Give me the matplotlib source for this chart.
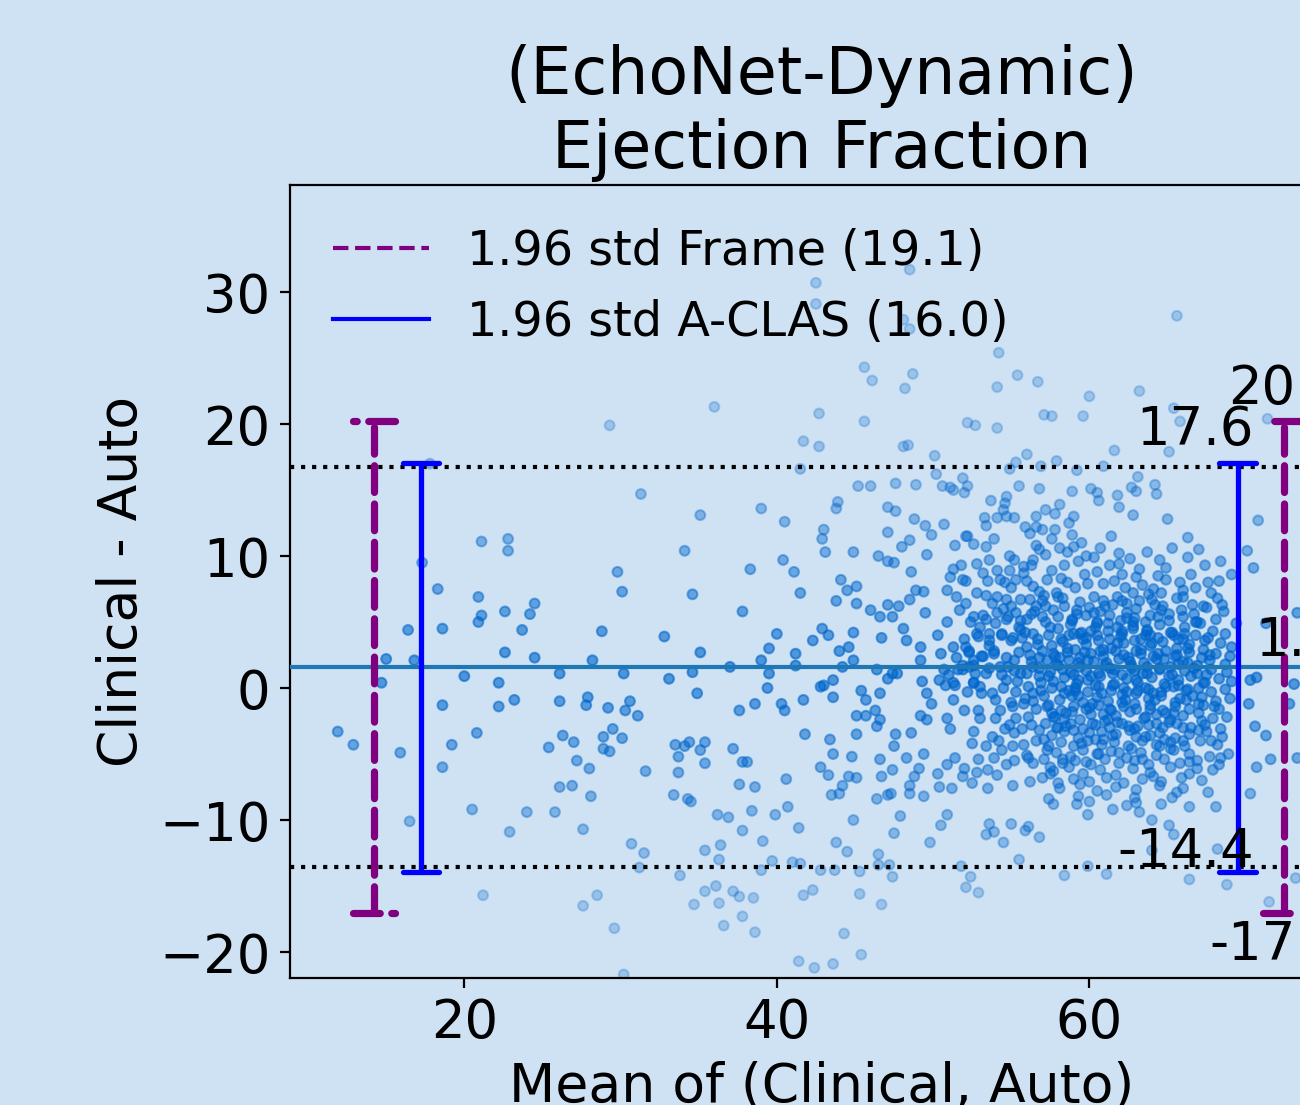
import numpy as np
import matplotlib
matplotlib.use("Agg")
import matplotlib.pyplot as plt
from matplotlib.lines import Line2D

# ---------------- data (mean of clinical/auto, clinical - auto) ----------------
left_pts = [(21.1, 11.1), (22.8, 11.3), (22.8, 10.4), (17.3, 9.5), (18.3, 7.5), (20.9, 6.9), (21.1, 5.5),
            (20.9, 5.0), (22.6, 5.8), (24.5, 6.4), (24.2, 5.6), (23.7, 4.4), (16.4, 4.4), (18.6, 4.5),
            (15.0, 2.2), (16.8, 2.1), (22.6, 2.7), (24.5, 2.3), (17.8, 17.0), (14.7, 0.4), (20.0, 0.9),
            (22.2, 0.4), (26.1, 1.1), (18.6, -1.3), (22.2, -1.4), (23.2, -0.9), (26.1, -1.0), (11.9, -3.3),
            (12.9, -4.3), (15.9, -4.9), (19.2, -4.3), (20.8, -3.4), (18.6, -6.0), (25.4, -4.5), (26.3, -3.6),
            (26.1, -7.5), (20.5, -9.2), (24.0, -9.4), (25.8, -9.4), (22.9, -10.9), (16.5, -10.1), (21.2, -15.7)]

middle_pts = [(29.3, 19.9), (36.0, 21.3), (42.7, 20.8), (41.7, 18.7), (42.7, 18.3), (41.5, 16.6), (31.3, 14.7),
              (35.1, 13.1), (39.0, 13.6), (40.5, 12.6), (34.1, 10.4), (29.8, 8.8), (30.1, 7.3), (34.6, 7.1),
              (38.3, 9.0), (40.4, 9.7), (41.1, 8.8), (41.5, 7.2), (37.8, 5.8), (28.8, 4.3), (32.8, 3.9),
              (40.0, 4.1), (42.3, 3.6), (35.1, 2.7), (39.5, 3.0), (41.2, 2.6), (28.2, 2.1), (39.0, 2.1),
              (30.2, 1.1), (33.1, 0.7), (34.6, 1.2), (37.0, 1.6), (39.5, 1.1), (41.2, 1.7), (42.8, 0.1),
              (27.9, -0.7), (27.8, -1.3), (29.2, -1.5), (30.6, -1.0), (30.3, -1.7), (31.1, -2.1), (34.9, -0.4),
              (37.6, -1.7), (38.6, -1.2), (39.4, 0.0), (40.3, -1.2), (40.5, -1.7), (41.7, -0.9),
              (27.0, -4.1), (28.9, -3.7), (29.5, -3.1), (30.1, -3.8), (28.9, -4.6), (29.3, -4.8), (27.2, -5.5),
              (28.0, -6.1), (31.6, -6.3), (33.5, -4.3), (34.4, -4.1), (34.1, -4.4), (35.4, -4.1), (35.1, -4.7),
              (33.7, -5.2), (35.4, -5.7), (33.7, -6.4), (37.2, -4.6), (37.8, -5.6), (38.1, -5.6), (41.8, -3.5),
              (42.8, -6.0), (26.9, -7.4), (28.1, -8.2), (33.4, -8.1), (34.3, -8.4), (34.5, -8.6), (37.6, -7.3),
              (38.6, -7.5), (40.6, -6.9), (40.7, -9.0), (39.9, -9.6), (38.4, -9.3), (36.2, -9.6), (36.9, -9.8),
              (37.8, -10.8), (39.1, -11.6), (41.4, -10.6), (27.6, -10.7), (30.7, -11.8), (31.5, -12.5),
              (31.2, -13.6), (33.8, -14.2), (35.4, -12.3), (36.4, -11.9), (36.3, -13.0), (39.0, -13.8),
              (39.7, -13.1), (41.0, -13.2), (41.5, -13.3), (42.8, -13.8), (27.6, -16.5), (28.5, -15.7),
              (29.6, -18.2), (34.7, -16.4), (35.4, -15.4), (36.1, -15.0), (36.3, -16.3), (37.2, -15.4),
              (37.6, -15.8), (38.5, -15.9), (37.8, -17.3), (36.6, -18.0), (38.6, -18.5), (41.7, -15.7),
              (42.3, -15.3), (41.4, -20.7), (42.4, -21.2), (30.2, -21.7)]

upper_pts = [(48.5, 31.7), (42.5, 30.7), (42.5, 29.1), (48.1, 27.9), (48.5, 27.2), (54.2, 25.4), (45.6, 24.3),
             (46.1, 23.3), (48.7, 23.8), (48.2, 22.7), (54.1, 22.8), (55.4, 23.7), (56.7, 23.2), (45.6, 20.2),
             (52.2, 20.1), (52.7, 19.9), (54.1, 19.7), (57.1, 20.7), (57.6, 20.6), (48.1, 18.3), (48.4, 18.4),
             (50.1, 17.6), (50.2, 16.2), (51.9, 15.9), (52.2, 15.3), (52.0, 14.8), (50.6, 15.3), (51.1, 15.2),
             (51.3, 15.0), (45.2, 15.3), (46.0, 15.3), (47.6, 15.5), (48.9, 15.4), (54.9, 16.6), (55.3, 17.1),
             (56.0, 17.7), (56.9, 16.8), (57.9, 17.2), (55.5, 15.3), (56.8, 15.1), (53.7, 14.2), (54.7, 14.5),
             (43.9, 14.1), (43.8, 13.6), (47.1, 13.7), (47.6, 13.4), (43.0, 12.0), (42.9, 11.3), (43.1, 10.3),
             (44.9, 10.3), (47.1, 11.8), (48.8, 12.8), (49.5, 12.3), (49.9, 11.6), (50.7, 12.4), (48.5, 11.2),
             (48.0, 10.7), (46.5, 10.0), (47.1, 9.6), (47.5, 9.5), (49.6, 10.1), (51.4, 10.8), (52.2, 11.5),
             (48.6, 8.8), (44.1, 8.2), (44.5, 7.4), (45.1, 7.7), (43.8, 6.6), (45.1, 6.4), (46.0, 5.9),
             (46.6, 5.4), (47.1, 6.3), (47.8, 6.2), (47.4, 5.4), (48.5, 6.7), (48.9, 7.4), (49.4, 7.3),
             (49.5, 5.7), (50.9, 7.4), (50.9, 5.0), (42.9, 4.5), (43.3, 4.0), (44.9, 4.2), (48.1, 4.5),
             (50.3, 4.0), (46.7, 3.8), (48.3, 3.6)]

lower_pts = [(43.0, 0.2), (43.6, -0.7), (43.6, 0.6), (44.2, 1.6), (44.0, 2.8), (44.6, 3.1), (44.9, 2.1),
             (45.4, -0.2), (45.7, -0.9), (46.6, -0.4), (46.4, 1.4), (47.4, 1.1), (47.1, 0.7), (47.7, 1.1),
             (45.1, -2.1), (45.7, -2.1), (46.3, -1.7), (46.6, -2.4), (46.4, -2.9), (45.1, -3.5), (43.4, -3.9),
             (43.6, -5.0), (44.8, -5.2), (43.3, -6.6), (44.6, -6.7), (45.1, -6.8), (44.2, -7.4), (43.5, -8.1),
             (44.0, -8.0), (46.4, -8.4), (47.1, -8.1), (47.3, -8.0), (46.6, -5.4), (46.7, -6.7), (47.4, -6.2),
             (47.6, -3.5), (47.5, -4.4), (48.6, -3.4), (48.3, -5.3), (49.4, -5.0), (49.1, -6.1), (48.8, -6.7),
             (48.5, -7.4), (48.5, -8.0), (49.4, -8.2), (50.3, -6.5), (50.4, -7.5), (50.9, -5.8), (51.4, -5.3),
             (52.0, -6.1), (51.2, -7.6), (51.9, -6.7), (52.5, -7.2), (52.8, -6.4), (52.9, -5.4), (53.5, -6.2),
             (53.5, -7.6), (54.1, -6.6), (55.1, -7.4), (57.4, -8.4), (44.9, -10.0), (47.9, -9.7), (47.5, -11.0),
             (43.8, -11.7), (44.5, -12.4), (46.5, -12.6), (46.5, -13.4), (47.2, -13.4), (47.4, -14.3),
             (43.7, -13.8), (45.3, -13.9), (45.3, -15.6), (46.7, -16.4), (49.8, -11.7), (50.5, -10.4),
             (50.9, -9.6), (53.6, -10.3), (53.4, -11.1), (53.9, -10.9), (54.5, -11.7), (55.0, -10.3),
             (55.9, -10.8), (56.1, -10.5), (56.8, -11.3), (55.5, -13.0), (51.8, -13.5), (52.4, -14.3),
             (52.1, -15.1), (52.9, -15.5), (44.3, -18.6), (45.4, -20.2), (43.6, -20.9), (49.3, 0.5),
             (49.6, -0.4), (49.9, -1.2), (49.2, -2.1), (49.6, -2.4), (50.9, -2.3), (51.1, -3.1), (51.3, -0.9),
             (50.8, 0.2), (51.4, 0.2), (52.0, -1.7), (52.6, 0.4), (53.1, -0.4), (52.9, -1.7), (52.6, -3.3),
             (52.5, -4.2), (53.8, -3.7), (54.4, -4.7), (55.1, -4.4), (55.2, -5.5), (56.1, -5.3), (56.4, -5.7),
             (57.5, -6.0), (57.5, -6.5), (54.0, -2.3), (54.6, -3.1), (55.3, -2.3), (55.8, -1.2), (56.3, -2.8),
             (57.1, -3.9), (49.2, 3.1), (49.2, 2.1), (50.5, 2.6), (50.7, 1.4), (51.9, 1.7), (52.3, 2.8),
             (52.6, 1.7)]

right_pts = [(65.6, 28.2), (63.2, 22.5), (60.0, 22.1), (59.6, 20.6), (65.4, 21.2), (65.8, 20.2), (71.4, 20.4),
             (61.6, 18.0), (65.1, 17.9), (60.9, 16.8), (63.1, 16.0), (64.2, 15.4), (64.3, 14.7), (58.9, 14.9),
             (60.1, 15.1), (60.6, 14.2), (61.8, 14.6), (61.9, 13.7), (62.7, 15.2), (62.8, 13.1), (58.1, 13.9),
             (57.8, 13.2), (59.0, 13.0), (65.0, 12.8), (70.8, 12.7), (66.3, 11.4), (65.3, 10.6), (70.1, 10.4),
             (70.5, 9.1), (67.4, 9.3), (69.1, 8.6), (67.8, 7.2), (67.3, 6.2), (65.6, 6.8), (64.9, 8.2),
             (64.4, 8.5), (59.2, 16.5), (60.5, 14.8), (63.0, 14.9), (58.4, -14.2), (59.9, -13.5), (61.1, -14.1),
             (64.0, -10.0), (64.0, -12.3), (65.1, -10.4), (65.4, -11.1), (61.5, -9.2), (59.9, -9.6),
             (59.2, -8.8), (63.0, -8.7), (64.6, -8.8), (66.4, -9.0), (66.4, -14.5), (68.2, -12.2), (68.1, -9.0),
             (68.8, -14.9), (71.5, -16.2), (73.2, -14.4), (70.3, 0.6), (70.7, 0.8), (70.2, -1.2), (70.6, -2.9),
             (71.3, -3.6), (71.6, -5.4), (70.7, -6.0), (70.3, -8.0), (73.3, -5.3), (72.8, -1.2), (73.1, 0.3),
             (71.3, 4.9), (73.3, 5.7), (69.4, 4.9)]

core_left_pts = [(53.3, 12.9), (53.4, 12.3), (54.1, 12.9), (54.6, 14.0), (54.5, 13.5), (54.7, 13.0), (55.2, 12.9),
                 (53.9, 11.3), (53.4, 10.7), (52.6, 10.9), (52.1, 11.5), (55.9, 12.2), (56.2, 11.7), (56.6, 12.2),
                 (57.0, 12.0), (56.6, 13.0), (57.2, 13.5), (56.8, 10.5), (51.3, 9.0), (51.8, 9.3), (51.1, 8.4),
                 (51.9, 8.2), (51.5, 6.9), (52.1, 8.1), (52.8, 9.4), (53.2, 8.7), (53.6, 9.7), (53.5, 8.1),
                 (54.1, 8.9), (54.3, 8.2), (54.9, 10.0), (55.2, 9.7), (54.9, 8.9), (55.3, 8.2), (55.8, 8.7),
                 (56.4, 9.7), (57.3, 8.2), (56.4, 7.7), (56.8, 7.3), (52.8, 7.2), (53.4, 7.0), (54.1, 6.9),
                 (54.7, 6.7), (55.6, 6.7), (56.2, 6.7), (51.3, 3.1), (51.7, 5.9), (52.1, 6.4), (52.6, 5.4),
                 (53.0, 4.6), (52.9, 3.9), (53.4, 5.2), (53.6, 4.1), (54.1, 5.7), (54.4, 4.1), (54.7, 5.2),
                 (55.0, 3.6), (55.3, 5.7), (55.6, 4.4), (56.0, 5.2), (56.4, 4.1), (56.6, 6.2), (57.0, 5.4),
                 (56.0, 3.1), (52.1, 3.1), (51.6, 1.4), (52.3, 1.6), (52.6, 2.1), (53.4, 1.1), (53.2, 2.4),
                 (53.9, 2.6), (54.3, 1.6), (54.7, 0.6), (55.2, 2.1), (55.6, 1.1), (56.4, 1.6), (56.8, 0.9),
                 (57.3, 2.1), (50.4, 0.6), (51.3, 0.4), (52.6, 0.4), (56.4, -0.4), (57.3, -1.4), (56.8, -3.2),
                 (57.7, -2.2)]

core_right_pts = [(57.8, 12.0), (58.7, 12.5), (58.9, 11.6), (58.1, 10.6), (59.3, 9.6), (60.3, 9.9), (58.4, 9.3),
                  (59.7, 8.6), (60.9, 7.9), (60.3, 6.9), (59.1, 7.6), (57.9, 7.2), (57.6, 8.9), (59.5, 11.0),
                  (60.7, 10.6), (61.4, 11.5), (61.3, 9.3), (62.1, 8.6), (63.0, 8.4), (62.3, 7.6), (62.8, 7.2),
                  (63.2, 6.6), (63.8, 7.1),
                  (57.7, 5.9), (58.4, 6.2), (59.2, 5.6), (60.0, 6.1), (60.7, 5.8), (61.5, 6.3), (62.4, 5.7),
                  (63.0, 6.0), (63.9, 5.5), (64.7, 6.2), (65.9, 5.9), (66.7, 5.6), (67.5, 6.1), (68.6, 5.8),
                  (58.0, 4.5), (58.8, 4.8), (59.5, 4.2), (60.4, 4.6), (61.2, 4.9), (62.1, 4.3), (62.8, 4.7),
                  (63.7, 4.4), (64.5, 4.8), (65.3, 4.2), (66.1, 4.6), (67.1, 4.9), (67.9, 4.3),
                  (57.6, 3.2), (58.3, 3.5), (59.1, 2.9), (59.8, 3.3), (60.6, 3.6), (61.4, 3.0), (62.2, 3.4),
                  (63.0, 2.8), (63.9, 3.2), (64.7, 3.5), (65.6, 3.0), (66.4, 3.3), (67.3, 2.9), (68.4, 3.4),
                  (69.1, 3.1),
                  (57.9, 1.8), (58.7, 2.1), (59.4, 1.6), (60.3, 2.0), (61.0, 1.7), (61.9, 2.2), (62.7, 1.5),
                  (63.5, 1.9), (64.3, 2.2), (65.2, 1.6), (66.0, 2.0), (66.9, 1.7), (67.7, 2.1), (68.7, 1.8),
                  (57.7, 0.5), (58.4, 0.8), (59.2, 0.3), (59.9, 0.6), (60.7, 0.9), (61.5, 0.2), (62.4, 0.7),
                  (63.1, 0.4), (64.0, 0.8), (64.8, 0.3), (65.7, 0.6), (66.5, 0.9), (67.4, 0.4), (68.3, 0.7),
                  (69.1, 0.5),
                  (58.1, -0.9), (58.9, -0.6), (59.6, -1.1), (60.5, -0.7), (61.2, -1.0), (62.1, -0.5), (62.9, -1.2),
                  (63.8, -0.8), (64.6, -0.6), (65.5, -1.1), (66.2, -0.9), (67.2, -0.7), (68.1, -1.0), (69.0, -0.8),
                  (57.8, -2.2), (58.5, -1.9), (59.4, -2.4), (60.1, -2.0), (61.0, -2.5), (61.7, -2.1), (62.6, -1.8),
                  (63.5, -2.3), (64.3, -2.0), (65.2, -2.4), (66.0, -2.1), (67.0, -1.9), (67.9, -2.3), (68.8, -2.2),
                  (57.6, -3.6), (58.4, -3.3), (59.3, -3.8), (60.0, -3.4), (60.9, -3.9), (61.7, -3.5), (62.6, -3.2),
                  (63.6, -3.7), (64.5, -3.4), (65.5, -3.8), (66.4, -3.5), (67.5, -3.3), (68.5, -3.7),
                  (57.9, -4.9), (58.8, -5.2), (59.6, -4.7), (60.5, -5.0), (61.4, -4.8), (62.4, -5.3), (63.3, -4.9),
                  (64.3, -5.1), (65.4, -4.7), (66.4, -5.0), (67.7, -5.2),
                  (57.7, -6.3), (58.7, -6.0), (59.6, -6.5), (60.7, -6.2), (61.7, -6.6), (62.8, -6.1), (63.9, -6.4),
                  (65.2, -6.0), (66.4, -6.5), (67.9, -6.2),
                  (58.1, -7.6), (59.4, -7.3), (60.5, -7.8), (61.7, -7.5), (63.0, -7.7), (64.5, -7.4), (66.0, -7.6),
                  (57.7, -8.8), (60.0, -8.6), (62.4, -8.9)]

core_fill_pts = [(52.4, 5.0), (53.2, 5.5), (54.0, 4.9), (54.8, 5.4), (55.6, 5.1), (56.3, 5.6), (57.2, 5.0),
                 (58.0, 5.4), (58.9, 5.1), (59.8, 5.5), (60.5, 5.0), (61.3, 5.5), (62.0, 5.1), (62.9, 5.3),
                 (63.6, 5.0), (64.4, 5.4), (65.1, 5.1), (66.0, 5.4), (66.8, 5.0), (68.1, 5.2),
                 (52.0, 3.7), (52.8, 4.1), (53.6, 3.6), (54.4, 4.0), (55.1, 3.8), (55.9, 4.2), (56.7, 3.7),
                 (57.4, 4.0), (58.2, 3.7), (59.0, 4.1), (59.8, 3.8), (60.5, 4.0), (61.3, 3.7), (62.1, 4.1),
                 (62.9, 3.6), (63.6, 4.0), (64.4, 3.8), (65.2, 4.2), (66.0, 3.7), (66.8, 4.0), (67.6, 3.8),
                 (68.7, 4.1),
                 (51.5, 2.3), (52.3, 2.7), (53.1, 2.4), (53.9, 2.8), (54.7, 2.3), (55.5, 2.7), (56.2, 2.5),
                 (57.0, 2.8), (57.8, 2.4), (58.6, 2.7), (59.4, 2.3), (60.1, 2.6), (60.9, 2.4), (61.7, 2.8),
                 (62.5, 2.3), (63.3, 2.6), (64.1, 2.4), (64.9, 2.8), (65.6, 2.5), (66.4, 2.7), (67.2, 2.3),
                 (68.1, 2.6), (69.0, 2.4),
                 (51.0, 1.0), (51.9, 1.4), (52.7, 1.1), (53.6, 1.5), (54.4, 1.0), (55.2, 1.3), (56.0, 1.1),
                 (56.8, 1.5), (57.5, 1.2), (58.3, 1.4), (59.0, 1.0), (59.8, 1.3), (60.6, 1.1), (61.3, 1.5),
                 (62.1, 1.0), (62.9, 1.3), (63.7, 1.1), (64.5, 1.4), (65.3, 1.0), (66.1, 1.3), (66.9, 1.1),
                 (67.8, 1.4), (68.8, 1.2),
                 (52.2, -0.3), (53.0, 0.1), (53.8, -0.4), (54.5, 0.0), (55.3, -0.3), (56.1, 0.1), (56.9, -0.2),
                 (57.6, 0.0), (58.4, -0.4), (59.1, 0.0), (59.9, -0.3), (60.6, 0.1), (61.4, -0.2), (62.2, 0.0),
                 (63.0, -0.4), (63.8, -0.1), (64.6, -0.3), (65.4, 0.1), (66.2, -0.2), (67.0, 0.0), (67.8, -0.3),
                 (68.7, -0.1),
                 (54.3, -1.7), (55.1, -1.4), (56.6, -1.6), (57.4, -1.3), (58.2, -1.7), (59.0, -1.4), (59.8, -1.6),
                 (60.6, -1.3), (61.4, -1.7), (62.2, -1.4), (63.0, -1.6), (63.9, -1.3), (64.7, -1.7), (65.5, -1.4),
                 (66.4, -1.6), (67.3, -1.3), (68.3, -1.6),
                 (54.9, -2.8), (55.7, -3.1), (57.2, -2.7), (58.0, -3.0), (58.8, -2.7), (59.6, -3.1), (60.4, -2.8),
                 (61.3, -3.0), (62.1, -2.7), (62.9, -3.1), (63.8, -2.8), (64.7, -3.0), (65.6, -2.7), (66.5, -3.0),
                 (67.4, -2.8), (68.4, -3.1),
                 (53.4, -4.4), (54.2, -4.0), (55.8, -4.3), (56.6, -4.0), (57.4, -4.4), (58.2, -4.1), (59.0, -4.4),
                 (59.9, -4.0), (60.8, -4.3), (61.6, -4.1), (62.5, -4.4), (63.4, -4.0), (64.3, -4.3), (65.2, -4.1),
                 (66.1, -4.4), (67.1, -4.0), (68.2, -4.3),
                 (54.7, -5.8), (57.1, -5.4), (58.3, -5.7), (59.1, -5.5), (60.1, -5.8), (61.0, -5.4), (61.9, -5.7),
                 (62.9, -5.5), (63.8, -5.8), (64.8, -5.4), (65.8, -5.7), (66.9, -5.5), (68.3, -5.8),
                 (56.2, -7.1), (57.0, -6.8), (58.0, -7.2), (59.0, -6.9), (60.0, -7.1), (61.1, -6.8), (62.2, -7.2),
                 (63.4, -6.9), (64.6, -7.1), (65.9, -6.8), (67.2, -7.0),
                 (53.8, 6.4), (55.0, 6.2), (57.0, 6.6), (58.3, 6.8), (59.4, 6.5), (60.9, 6.6), (61.8, 6.9),
                 (62.4, 6.4), (64.0, 6.7), (64.6, 7.2), (66.0, 6.9), (66.8, 7.6), (68.2, 6.8),
                 (55.0, 7.6), (56.0, 8.1), (57.1, 7.0), (58.6, 8.0), (59.9, 7.9), (61.6, 8.1), (63.4, 7.8),
                 (64.1, 7.5), (65.8, 8.0), (66.5, 8.6), (68.3, 8.1),
                 (57.2, 10.1), (58.6, 10.3), (59.8, 10.0), (61.9, 10.2), (62.6, 9.8), (63.7, 10.3), (64.5, 9.7),
                 (66.3, 9.9), (67.0, 10.5), (68.4, 9.6),
                 (57.4, 0.9), (58.1, 2.3), (58.7, -0.2), (59.3, 1.9), (59.6, 3.7), (60.2, -1.2), (60.4, 0.2),
                 (60.9, 2.9), (61.2, -2.4), (61.6, 1.4), (62.0, 3.9), (62.3, -0.9), (62.6, 2.0), (63.1, -2.9),
                 (63.4, 1.1), (63.7, 4.3), (64.1, -0.4), (64.4, 2.6), (64.9, -1.9), (65.1, 0.9), (58.5, -2.9),
                 (59.3, -0.6), (60.8, -3.3), (61.8, 4.6), (62.8, 5.0), (60.1, 4.3), (58.9, 5.2), (63.9, -3.6),
                 (65.7, 3.7), (66.3, -0.1)]

core_dense_pts = [(55.4, 0.5), (55.9, -0.8), (56.3, 2.0), (56.7, 3.3), (57.1, -0.6), (57.5, 4.6), (57.9, -3.0),
                  (58.2, 0.1), (58.6, 3.0), (58.9, -1.8), (59.2, 5.9), (59.5, -4.2), (59.9, 2.1), (60.2, -2.7),
                  (60.5, 4.9), (60.8, -0.4), (61.1, 1.9), (61.5, -3.6), (61.8, 3.4), (62.1, -1.1), (62.4, 5.3),
                  (62.7, -4.6), (63.0, 0.6), (63.3, 2.9), (63.6, -2.2), (63.9, 4.0), (64.2, -0.9), (64.5, 1.5),
                  (64.8, -3.9), (65.1, 5.6), (65.4, -1.9), (65.7, 1.8), (66.0, -3.0), (66.3, 3.0), (66.6, -0.6),
                  (66.9, 5.0), (67.2, -2.5), (67.5, 1.0),
                  (55.7, 3.8), (56.1, -2.2), (56.5, 5.8), (56.9, 0.4), (57.3, -4.7), (57.7, 2.6), (58.0, 6.9),
                  (58.4, -2.4), (58.8, 1.2), (59.1, -0.2), (59.4, 4.1), (59.8, -5.6), (60.1, 0.9), (60.4, -3.9),
                  (60.7, 2.8), (61.0, 6.2), (61.3, -1.6), (61.6, 0.3), (61.9, -4.9), (62.2, 2.5), (62.5, -2.9),
                  (62.8, 4.5), (63.1, -0.2), (63.4, -5.4), (63.7, 1.6), (64.0, 3.4), (64.3, -2.7), (64.6, 5.9),
                  (64.9, 0.1), (65.2, -4.6), (65.5, 2.4), (65.8, -0.8), (66.1, 4.1), (66.4, -5.6), (66.7, 1.5),
                  (67.0, -1.2), (67.4, 3.6), (67.8, -4.0),
                  (54.8, 1.6), (55.2, -3.4), (55.5, 4.6), (56.0, -5.1), (56.4, -1.0), (56.8, 2.3), (57.2, 6.2),
                  (57.6, -1.9), (58.0, 1.7), (58.3, -5.4), (58.7, 4.0), (59.0, -3.2), (59.3, 0.6), (59.7, 2.7),
                  (60.0, -1.5), (60.3, 5.7), (60.6, -5.0), (60.9, -2.0), (61.2, 4.3), (61.5, 1.1), (61.8, -2.6),
                  (62.1, 6.6), (62.4, -0.3), (62.7, 1.7), (63.0, -3.7), (63.3, 3.7), (63.6, 0.0), (63.9, -1.6),
                  (64.2, 6.3), (64.5, -4.4), (64.8, 2.2), (65.1, -2.6), (65.4, 4.0), (65.7, 0.2), (66.0, -4.0),
                  (66.3, 1.9), (66.6, 6.3), (67.0, -3.2), (67.3, 0.4), (67.7, 2.5), (68.0, -1.4), (68.4, -5.3),
                  (53.6, 3.2), (54.0, -0.9), (54.5, 6.0), (55.0, -1.1), (53.0, -2.3), (53.9, -5.3), (54.6, 8.0),
                  (55.8, 9.2), (56.6, 10.8), (57.6, 11.3), (59.0, 10.7), (60.5, 8.8), (61.9, 9.4), (63.2, 9.0),
                  (64.9, 9.1), (66.0, 7.4), (67.6, 8.0), (68.5, 6.3), (58.2, 8.3), (56.3, 9.3),
                  (59.3, -8.2), (61.1, -8.1), (62.9, -8.3), (64.1, -6.7), (65.6, -7.9), (66.9, -6.1), (67.6, -7.9),
                  (68.9, -5.0), (63.2, -9.4), (65.3, -8.3)]

# summary statistics
mean_diff = 1.6
loa_upper, loa_lower = 16.74, -13.56          # dotted lines
aclas_x = [17.23, 69.5]                        # A-CLAS bars
aclas_lo, aclas_hi = -13.92, 17.08
frame_x = [14.24, 72.48]                       # Frame bars
frame_lo, frame_hi = -17.02, 20.25
aclas_labels = ["17.6", "-14.4"]
aclas_label_y = [17.6, -14.4]
frame_labels = ["20.7", "-17.5"]
frame_label_y = [20.7, -17.5]
mean_label = "1.6"
legend_labels = ["1.96 std Frame (19.1)", "1.96 std A-CLAS (16.0)"]

# ---------------- figure ----------------
bg = "#cfe2f3"
fig = plt.figure(figsize=(6.5, 5.525), dpi=200, facecolor=bg)
ax = fig.add_axes([0.22308, 0.11493, 0.81769, 0.71765])
ax.set_facecolor(bg)

groups = [left_pts, middle_pts, upper_pts, lower_pts, right_pts,
          core_left_pts, core_right_pts, core_fill_pts, core_dense_pts]
xs = np.array([p[0] for g in groups for p in g])
ds = np.array([p[1] for g in groups for p in g])
alphas = np.clip(0.64 - 0.022 * np.abs(ds - mean_diff), 0.25, 0.64)
ax.scatter(xs, ds, s=12.5, color="#0066cc", alpha=alphas, linewidths=0.75, zorder=2)

ax.axhline(mean_diff, color="#1f77b4", lw=1.5, zorder=3)
ax.axhline(loa_upper, color="black", ls=":", lw=1.5, zorder=3)
ax.axhline(loa_lower, color="black", ls=":", lw=1.5, zorder=3)

cw_a, cw_f = 1.18, 1.34
for xb in aclas_x:
    ax.plot([xb, xb], [aclas_lo, aclas_hi], color="blue", lw=1.9, solid_capstyle="round", zorder=4)
    for yy in (aclas_lo, aclas_hi):
        ax.plot([xb - cw_a, xb + cw_a], [yy, yy], color="blue", lw=1.9, solid_capstyle="round", zorder=4)
for xb in frame_x:
    ax.plot([xb, xb], [frame_lo, frame_hi], color="purple", lw=2.6, ls="--",
            dash_capstyle="round", zorder=4)
    ax.plot([xb + cw_f, xb - cw_f], [frame_hi, frame_hi], color="purple", lw=2.6, ls="--",
            dash_capstyle="round", zorder=4)
    ax.plot([xb - cw_f, xb + cw_f], [frame_lo, frame_lo], color="purple", lw=2.6, ls="--",
            dash_capstyle="round", zorder=4)

fs_txt = 19
ax.text(70.54, aclas_label_y[0], aclas_labels[0], ha="right", va="bottom", fontsize=fs_txt, zorder=5)
ax.text(70.54, aclas_label_y[1], aclas_labels[1], ha="right", va="bottom", fontsize=fs_txt, zorder=5)
ax.text(76.4, frame_label_y[0], frame_labels[0], ha="right", va="bottom", fontsize=fs_txt, zorder=5)
ax.text(76.4, frame_label_y[1], frame_labels[1], ha="right", va="top", fontsize=fs_txt, zorder=5)
ax.text(76.0, mean_diff, mean_label, ha="right", va="bottom", fontsize=fs_txt, zorder=5)

handles = [Line2D([], [], color="purple", ls="--", lw=1.5),
           Line2D([], [], color="blue", lw=1.5)]
ax.legend(handles, legend_labels, loc="upper left", fontsize=17.2, frameon=False)

ax.set_xlim(8.845, 76.87)
ax.set_ylim(-21.97, 38.11)
ax.set_xticks([20, 40, 60])
ax.set_yticks([-20, -10, 0, 10, 20, 30])
ax.tick_params(labelsize=19)
ax.set_title("(EchoNet-Dynamic)\nEjection Fraction", fontsize=23.4)
ax.set_xlabel("Mean of (Clinical, Auto)", fontsize=19.3)
ax.set_ylabel("Clinical - Auto", fontsize=19.3)

fig.savefig("out.png", dpi=200, facecolor=bg)
